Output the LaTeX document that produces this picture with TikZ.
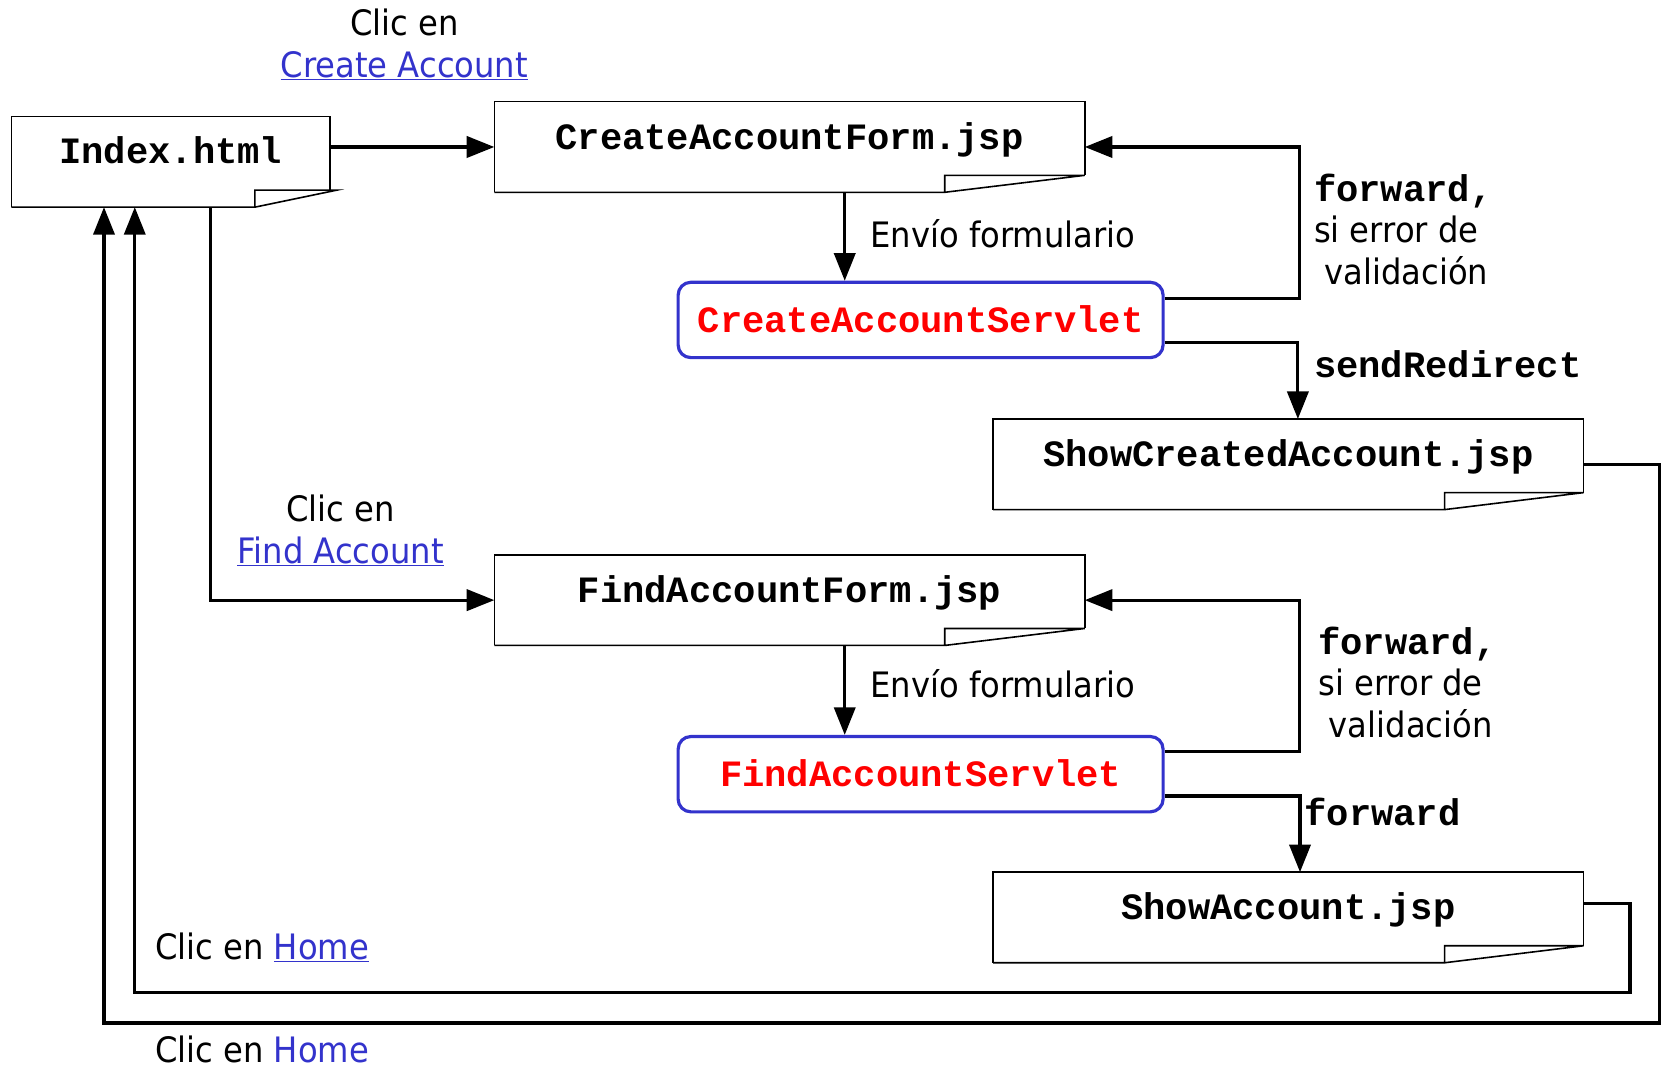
\documentclass[tikz,border=0pt]{standalone}
\usepackage{fontspec}
\usetikzlibrary{arrows.meta}
\newfontfamily\sansf[FakeStretch=0.92]{DejaVu Sans}
\newfontfamily\monof{Liberation Mono}
\definecolor{linkblue}{RGB}{51,51,204}
\newcommand\docoutline[3]{%
  \coordinate (#1-f) at ([xshift=-#2pt]#1.south east);
  \draw[docline] (#1.south west) -- (#1.north west) -- (#1.north east) -- ([yshift=16pt]#1.south east);
  \draw[docline] (#1.south west) -- (#1-f) -- ([yshift=16pt]#1-f) -- ([xshift=#3pt,yshift=16pt]#1.south east) -- (#1-f);
}
\newcommand\lnk[1]{\textcolor{linkblue}{\underline{#1}}}
\begin{document}
\begin{tikzpicture}[x=1pt,y=-1pt,
  docnode/.style={minimum width=556pt,minimum height=85pt,inner sep=0pt,
    font=\monof\bfseries\fontsize{35}{40}\selectfont,text height=24pt,text depth=20pt},
  docline/.style={line width=1.5pt,line join=miter},
  servlet/.style={draw=linkblue,line width=3pt,rounded corners=12pt,
    minimum width=457pt,minimum height=71pt,inner sep=0pt,text=red,
    font=\monof\bfseries\fontsize{35}{40}\selectfont,text height=27pt,text depth=4pt},
  conn/.style={line width=3pt,-{Triangle[length=26pt,width=20pt]}},
  lbl/.style={inner sep=0pt,font=\sansf\fontsize{33}{39}\selectfont},
  code/.style={inner sep=0pt,font=\monof\bfseries\fontsize{35}{40}\selectfont},
]
\useasboundingbox (0,0) rectangle (1568,1010);

% document nodes
\node[docnode,minimum width=300pt] (idx) at (161,152.5) {Index.html};
\node[docnode] (caf) at (744,138.5) {CreateAccountForm.jsp};
\node[docnode] (sca) at (1214,437.5) {ShowCreatedAccount.jsp};
\node[docnode] (faf) at (744,565.5) {FindAccountForm.jsp};
\node[docnode] (sa)  at (1214,864.5) {ShowAccount.jsp};
\docoutline{idx}{71}{6}
\docoutline{caf}{132}{0}
\docoutline{sca}{131}{0}
\docoutline{faf}{132}{0}
\docoutline{sa}{131}{0}

% servlets
\node[servlet] (cas) at (867.5,301.5) {CreateAccountServlet};
\node[servlet] (fas) at (867.5,729.5) {FindAccountServlet};

% connectors
\draw[conn] (idx.east |- caf.west) -- (caf.west);
\draw[conn] ([xshift=37pt]idx.south) |- (faf.west);
\draw[conn] ([xshift=52pt]caf.south) -- ([xshift=52pt]caf.south |- cas.north);
\draw[conn] ([yshift=20.5pt]cas.east) -- ++(127,0) |- (caf.east);
\draw[conn] ([yshift=-21.5pt]cas.east) -| ([xshift=9pt]sca.north);
\draw[conn] (sca.east) -- (1564,437.5) -- (1564,964) -| ([xshift=-63pt]idx.south);

\draw[conn] ([xshift=52pt]faf.south) -- ([xshift=52pt]faf.south |- fas.north);
\draw[conn] ([yshift=21.5pt]fas.east) -- ++(127,0) |- (faf.east);
\draw[conn] ([yshift=-20.5pt]fas.east) -| ([xshift=11pt]sa.north);
\draw[conn] ([yshift=13.5pt]sa.east) -- (1536,851) -- (1536,935) -| ([xshift=-34pt]idx.south);

% labels
\node[lbl,align=center] (l1) at (381,42) {Clic en\\\lnk{Create Account}};
\node[lbl,align=center] (l2) at (321,500) {Clic en\\\lnk{Find Account}};
\node[lbl,anchor=west] (l3) at (820,220) {Envío formulario};
\node[lbl,anchor=west] (l4) at (820,644) {Envío formulario};
\node[lbl,align=left,anchor=west] (l5) at (1238,216)
  {{\monof\bfseries\fontsize{35}{38}\selectfont forward,}\\si error de\\\hspace*{10pt}validación};
\node[lbl,align=left,anchor=west] (l6) at (1242,643)
  {{\monof\bfseries\fontsize{35}{38}\selectfont forward,}\\si error de\\\hspace*{10pt}validación};
\node[code,anchor=west] (l7) at (1238,343) {sendRedirect};
\node[code,anchor=west] (l8) at (1229,765) {forward};
\node[lbl,anchor=west] (l9) at (146,893) {Clic en \lnk{Home}};
\node[lbl,anchor=west] (l10) at (146,989) {Clic en \textcolor{linkblue}{Home}};
\end{tikzpicture}
\end{document}
